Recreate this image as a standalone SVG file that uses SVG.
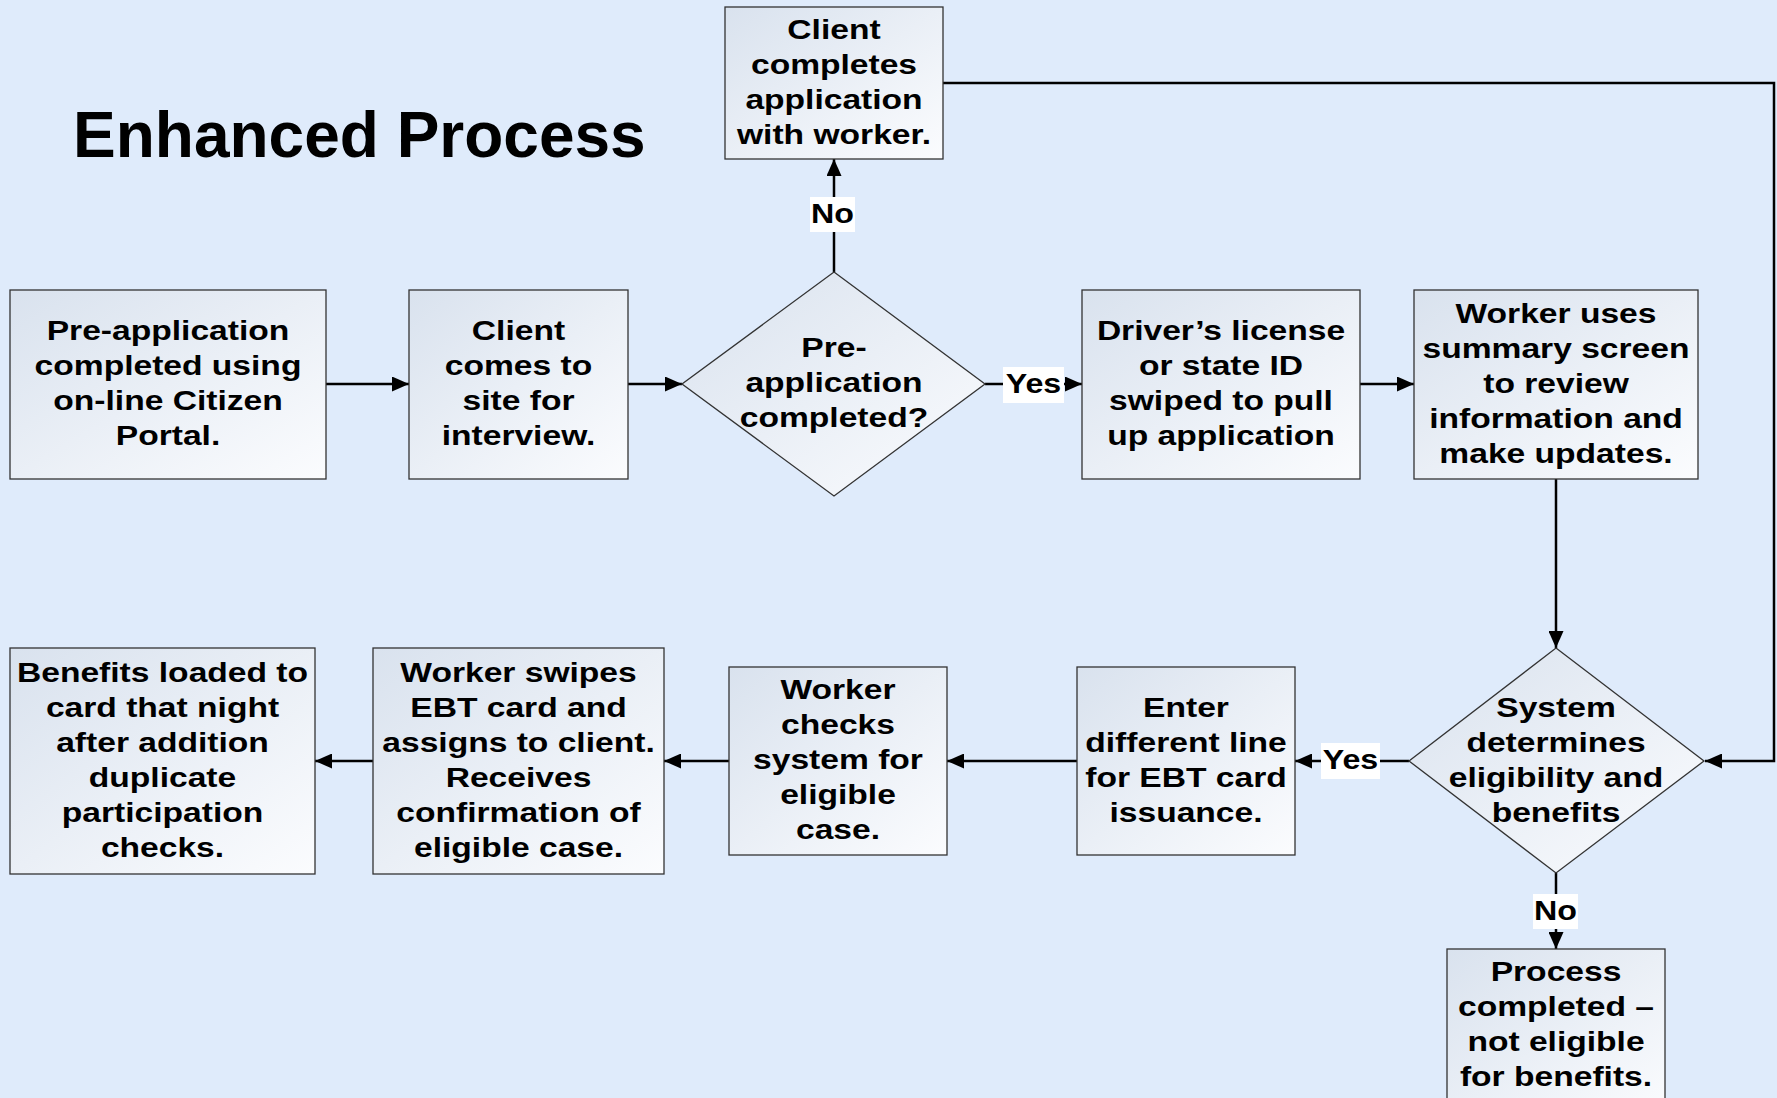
<svg xmlns="http://www.w3.org/2000/svg" width="1777" height="1098" viewBox="0 0 1777 1098">
<style>
.bg{fill:#dfebfb}
.box{fill:url(#g);stroke:#333;stroke-width:1.3}
.t{font-family:"Liberation Sans",Arial,sans-serif;font-weight:bold;font-size:28px;text-anchor:middle;fill:#000}
.title{font-family:"Liberation Sans",Arial,sans-serif;font-weight:bold;font-size:64px;fill:#000}
.c{fill:none;stroke:#000;stroke-width:2.5}
.lb{fill:#fff}
</style>
<defs>
<linearGradient id="g" x1="0" y1="0" x2="1" y2="1">
<stop offset="0" stop-color="#d9e2ee"/>
<stop offset="1" stop-color="#fbfcfe"/>
</linearGradient>
<marker id="a" markerUnits="userSpaceOnUse" markerWidth="18" markerHeight="15" refX="17" refY="7.5" orient="auto">
<path d="M0,0 L17,7.5 L0,15 z" fill="#000"/>
</marker>
</defs>
<rect class="bg" x="0" y="0" width="1777" height="1098"/>
<text class="title" x="73" y="157">Enhanced Process</text>

<g id="connectors">
<line class="c" x1="326" y1="384" x2="409" y2="384" marker-end="url(#a)"/>
<line class="c" x1="628" y1="384" x2="682" y2="384" marker-end="url(#a)"/>
<line class="c" x1="834" y1="272" x2="834" y2="159" marker-end="url(#a)"/>
<line class="c" x1="985" y1="384" x2="1082" y2="384" marker-end="url(#a)"/>
<line class="c" x1="1360" y1="384" x2="1414" y2="384" marker-end="url(#a)"/>
<polyline class="c" points="943,83 1774,83 1774,761 1705,761" marker-end="url(#a)"/>
<line class="c" x1="1556" y1="479" x2="1556" y2="648" marker-end="url(#a)"/>
<line class="c" x1="1409" y1="761" x2="1295" y2="761" marker-end="url(#a)"/>
<line class="c" x1="1556" y1="873" x2="1556" y2="949" marker-end="url(#a)"/>
<line class="c" x1="1077" y1="761" x2="947" y2="761" marker-end="url(#a)"/>
<line class="c" x1="729" y1="761" x2="664" y2="761" marker-end="url(#a)"/>
<line class="c" x1="373" y1="761" x2="315" y2="761" marker-end="url(#a)"/>
<rect class="lb" x="810" y="197" width="45" height="35"/>
<text class="t" transform="translate(832.5 0) scale(1.15 1)" x="0" y="223">No</text>
<rect class="lb" x="1003" y="367" width="61" height="36"/>
<text class="t" transform="translate(1033.5 0) scale(1.15 1)" x="0" y="393">Yes</text>
<rect class="lb" x="1321" y="743" width="59" height="36"/>
<text class="t" transform="translate(1350.5 0) scale(1.15 1)" x="0" y="769">Yes</text>
<rect class="lb" x="1533" y="894" width="45" height="35"/>
<text class="t" transform="translate(1555.5 0) scale(1.15 1)" x="0" y="920">No</text>
</g>

<g id="n-client-completes">
<rect class="box" x="725" y="7" width="218" height="152"/>
<text class="t" transform="translate(834 0) scale(1.2 1)"><tspan x="0" y="39">Client</tspan><tspan x="0" y="74">completes</tspan><tspan x="0" y="109">application</tspan><tspan x="0" y="144">with worker.</tspan></text>
</g>

<g id="n-preapp">
<rect class="box" x="10" y="290" width="316" height="189"/>
<text class="t" transform="translate(168 0) scale(1.2 1)"><tspan x="0" y="340.5">Pre-application</tspan><tspan x="0" y="375.5">completed using</tspan><tspan x="0" y="410.5">on-line Citizen</tspan><tspan x="0" y="445.5">Portal.</tspan></text>
</g>

<g id="n-client-comes">
<rect class="box" x="409" y="290" width="219" height="189"/>
<text class="t" transform="translate(518.5 0) scale(1.2 1)"><tspan x="0" y="340.5">Client</tspan><tspan x="0" y="375.5">comes to</tspan><tspan x="0" y="410.5">site for</tspan><tspan x="0" y="445.5">interview.</tspan></text>
</g>

<g id="n-decision-preapp">
<polygon class="box" points="834,272 985,384 834,496 682,384"/>
<text class="t" transform="translate(834 0) scale(1.2 1)"><tspan x="0" y="357.5">Pre-</tspan><tspan x="0" y="392.5">application</tspan><tspan x="0" y="427.5">completed?</tspan></text>
</g>

<g id="n-drivers">
<rect class="box" x="1082" y="290" width="278" height="189"/>
<text class="t" transform="translate(1221 0) scale(1.2 1)"><tspan x="0" y="340.5">Driver’s license</tspan><tspan x="0" y="375.5">or state ID</tspan><tspan x="0" y="410.5">swiped to pull</tspan><tspan x="0" y="445.5">up application</tspan></text>
</g>

<g id="n-worker-uses">
<rect class="box" x="1414" y="290" width="284" height="189"/>
<text class="t" transform="translate(1556 0) scale(1.2 1)"><tspan x="0" y="323">Worker uses</tspan><tspan x="0" y="358">summary screen</tspan><tspan x="0" y="393">to review</tspan><tspan x="0" y="428">information and</tspan><tspan x="0" y="463">make updates.</tspan></text>
</g>

<g id="n-decision-system">
<polygon class="box" points="1556,648 1704,761 1556,873 1409,761"/>
<text class="t" transform="translate(1556 0) scale(1.2 1)"><tspan x="0" y="717">System</tspan><tspan x="0" y="752">determines</tspan><tspan x="0" y="787">eligibility and</tspan><tspan x="0" y="822">benefits</tspan></text>
</g>

<g id="n-enter">
<rect class="box" x="1077" y="667" width="218" height="188"/>
<text class="t" transform="translate(1186 0) scale(1.2 1)"><tspan x="0" y="717">Enter</tspan><tspan x="0" y="752">different line</tspan><tspan x="0" y="787">for EBT card</tspan><tspan x="0" y="822">issuance.</tspan></text>
</g>

<g id="n-worker-checks">
<rect class="box" x="729" y="667" width="218" height="188"/>
<text class="t" transform="translate(838 0) scale(1.2 1)"><tspan x="0" y="699.5">Worker</tspan><tspan x="0" y="734.5">checks</tspan><tspan x="0" y="769.5">system for</tspan><tspan x="0" y="804.5">eligible</tspan><tspan x="0" y="839.5">case.</tspan></text>
</g>

<g id="n-worker-swipes">
<rect class="box" x="373" y="648" width="291" height="226"/>
<text class="t" transform="translate(518.5 0) scale(1.2 1)"><tspan x="0" y="682">Worker swipes</tspan><tspan x="0" y="717">EBT card and</tspan><tspan x="0" y="752">assigns to client.</tspan><tspan x="0" y="787">Receives</tspan><tspan x="0" y="822">confirmation of</tspan><tspan x="0" y="857">eligible case.</tspan></text>
</g>

<g id="n-benefits">
<rect class="box" x="10" y="648" width="305" height="226"/>
<text class="t" transform="translate(162.5 0) scale(1.2 1)"><tspan x="0" y="682">Benefits loaded to</tspan><tspan x="0" y="717">card that night</tspan><tspan x="0" y="752">after addition</tspan><tspan x="0" y="787">duplicate</tspan><tspan x="0" y="822">participation</tspan><tspan x="0" y="857">checks.</tspan></text>
</g>

<g id="n-process-completed">
<rect class="box" x="1447" y="949" width="218" height="170"/>
<text class="t" transform="translate(1556 0) scale(1.2 1)"><tspan x="0" y="981">Process</tspan><tspan x="0" y="1016">completed –</tspan><tspan x="0" y="1051">not eligible</tspan><tspan x="0" y="1086">for benefits.</tspan></text>
</g>
</svg>
